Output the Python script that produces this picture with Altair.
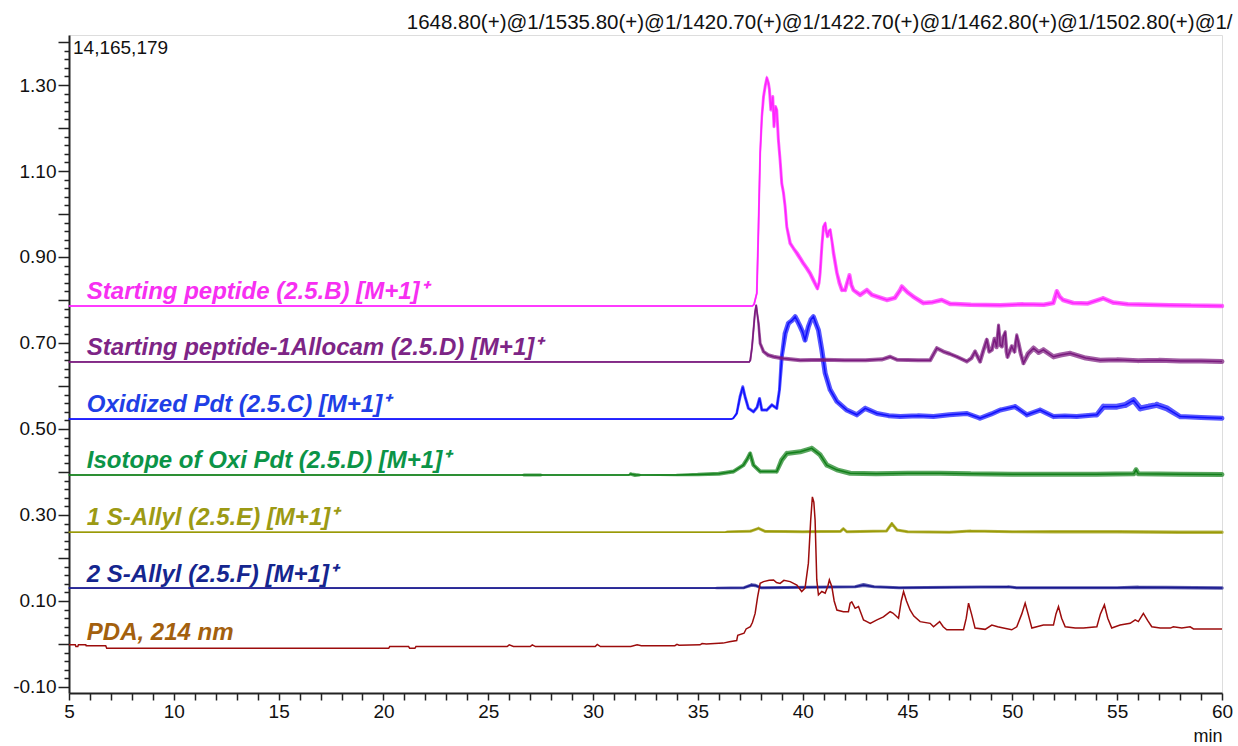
import altair as alt
import pandas as pd

# ---------------- data ----------------
# Starting peptide (2.5.B) - magenta
mag_t = [5.0, 37.6, 37.68, 37.81, 37.89, 37.97, 38.05, 38.13, 38.22, 38.29, 38.36, 38.41, 38.48, 38.57, 38.63,
         38.70, 38.76, 38.84, 38.92, 39.00, 39.08, 39.16, 39.24, 39.40, 39.56, 39.72, 39.88, 40.03, 40.19, 40.35,
         40.52, 40.70, 40.78, 40.83, 40.92, 40.99, 41.07, 41.12, 41.18, 41.25, 41.31, 41.40, 41.47, 41.63, 41.75,
         41.87, 42.02, 42.12, 42.23, 42.32, 42.42, 42.74, 43.06, 43.30, 43.54, 44.01, 44.40, 44.65, 44.73, 45.00,
         45.27, 45.75, 46.20, 46.63, 47.03, 48.00, 49.42, 50.50, 51.50, 51.95, 52.12, 52.25, 52.42, 52.90, 53.60,
         54.33, 54.81, 55.50, 56.50, 57.50, 58.50, 60.0]
mag_v = [0.786, 0.786, 0.790, 0.816, 0.970, 1.141, 1.226, 1.273, 1.300, 1.316, 1.305, 1.290, 1.242, 1.273, 1.203,
         1.250, 1.242, 1.172, 1.126, 1.071, 1.050, 1.017, 0.970, 0.932, 0.920, 0.909, 0.897, 0.885, 0.874, 0.862,
         0.845, 0.827, 0.840, 0.863, 0.930, 0.970, 0.978, 0.960, 0.947, 0.960, 0.963, 0.935, 0.909, 0.863, 0.840,
         0.823, 0.823, 0.840, 0.858, 0.835, 0.823, 0.812, 0.823, 0.812, 0.808, 0.800, 0.805, 0.823, 0.831, 0.818,
         0.808, 0.793, 0.795, 0.800, 0.791, 0.789, 0.788, 0.790, 0.789, 0.793, 0.820, 0.808, 0.800, 0.793, 0.792,
         0.804, 0.794, 0.790, 0.789, 0.788, 0.787, 0.786]
mag_w = [1.6, 1.6, 1.8, 2, 2, 2, 2.5, 3, 3, 3, 3, 3, 3, 3, 3,
         3, 3, 3, 3, 3, 3, 3, 3, 3.5, 3.5, 4, 4, 4, 4, 4,
         4, 3.5, 3, 3, 3, 3, 3, 3, 3, 3, 3, 3, 3.5, 3.5, 4,
         4, 4, 4, 4, 4, 4, 4.5, 4.5, 4.5, 4.5, 4.5, 4.5, 4.5, 4.5, 4.5,
         4.5, 4.5, 4.5, 4.5, 4.5, 4.5, 4.5, 4.5, 4.5, 4.5, 4.5, 4.5, 4.5, 4.5, 4.5,
         4.5, 4.5, 4.5, 4.5, 4.5, 4.5, 4.5]

# Starting peptide-1Allocam (2.5.D) - purple
pur_t = [5.0, 37.45, 37.50, 37.58, 37.65, 37.72, 37.78, 37.84, 37.89, 37.97, 38.13, 38.35, 38.61, 39.08, 39.88,
         41.0, 42.0, 43.0, 43.8, 44.17, 44.5, 45.5, 46.08, 46.25, 46.40, 46.71, 47.0, 47.35, 47.83, 48.05,
         48.22, 48.46, 48.60, 48.78, 48.90, 49.02, 49.15, 49.25, 49.34, 49.42, 49.50, 49.58, 49.66, 49.72, 49.77,
         49.97, 50.10, 50.21, 50.29, 50.40, 50.53, 50.75, 51.01, 51.25, 51.48, 51.96, 52.30, 52.76, 53.50, 54.19,
         55.0, 56.0, 57.0, 58.0, 59.0, 60.0]
pur_v = [0.656, 0.656, 0.660, 0.690, 0.730, 0.770, 0.788, 0.765, 0.746, 0.699, 0.680, 0.672, 0.668, 0.664, 0.660,
         0.661, 0.660, 0.660, 0.662, 0.668, 0.661, 0.660, 0.660, 0.675, 0.688, 0.680, 0.675, 0.668, 0.657, 0.665,
         0.680, 0.657, 0.680, 0.707, 0.680, 0.684, 0.710, 0.690, 0.742, 0.695, 0.692, 0.715, 0.726, 0.680, 0.668,
         0.692, 0.680, 0.719, 0.700, 0.675, 0.653, 0.675, 0.688, 0.678, 0.684, 0.668, 0.672, 0.676, 0.665, 0.660,
         0.661, 0.659, 0.660, 0.658, 0.658, 0.657]
pur_w = [1.6, 1.6, 2, 2, 2, 2, 2, 2, 2.5, 3, 3.5, 4, 4, 4, 4,
         4, 4, 4, 4, 4, 4, 4, 4, 4, 4, 4, 4, 4, 4, 4,
         4, 4, 4, 4, 4, 4, 4, 4, 3, 4, 4, 4, 3, 4, 4,
         4, 4, 3, 4, 4, 4, 5, 5, 5, 5, 5, 5, 5, 5, 5,
         5, 5, 5, 5, 5, 5]

# Oxidized Pdt (2.5.C) - blue
blu_t = [5.0, 36.6, 36.69, 36.85, 37.01, 37.14, 37.25, 37.41, 37.65, 37.82, 37.94, 38.05, 38.29, 38.53, 38.76,
         38.89, 39.00, 39.16, 39.32, 39.48, 39.64, 39.76, 39.88, 40.00, 40.11, 40.27, 40.40, 40.51, 40.63, 40.75,
         40.91, 41.07, 41.31, 41.63, 42.10, 42.58, 42.98, 43.54, 44.10, 44.65, 45.50, 46.24, 47.00, 47.83, 48.46,
         49.00, 49.42, 50.13, 50.69, 51.32, 51.96, 52.50, 53.07, 54.03, 54.35, 54.98, 55.40, 55.78, 56.10, 56.50,
         56.89, 57.37, 58.00, 59.00, 60.0]
blu_v = [0.523, 0.523, 0.525, 0.536, 0.575, 0.598, 0.575, 0.548, 0.540, 0.550, 0.571, 0.544, 0.544, 0.556, 0.548,
         0.591, 0.668, 0.722, 0.746, 0.752, 0.761, 0.750, 0.738, 0.725, 0.707, 0.738, 0.755, 0.761, 0.745, 0.730,
         0.684, 0.630, 0.591, 0.564, 0.544, 0.533, 0.548, 0.536, 0.531, 0.529, 0.531, 0.529, 0.533, 0.536, 0.525,
         0.535, 0.544, 0.552, 0.533, 0.544, 0.529, 0.530, 0.529, 0.533, 0.552, 0.552, 0.556, 0.567, 0.548, 0.552,
         0.556, 0.548, 0.529, 0.527, 0.525]
blu_w = [1.6, 1.6, 2, 2.5, 3, 3, 3, 3, 3, 3, 3, 3, 3, 3, 3,
         3, 4, 5, 5, 5, 5, 5, 5, 5, 5, 5, 5, 5, 5, 5,
         5, 5, 5, 5, 5, 5, 5, 5, 5, 5, 5, 5, 5, 5, 5,
         5, 5, 5, 5, 5, 5, 5, 5, 5, 6, 6, 6, 6, 6, 6,
         6, 6, 5, 5, 5]

# Isotope of Oxi Pdt (2.5.D) - green
grn_t = [5.0, 26.6, 26.7, 27.5, 27.6, 31.7, 31.8, 32.0, 32.2, 32.3, 34.0, 35.0, 36.0, 36.69, 37.17,
         37.35, 37.49, 37.65, 37.97, 38.76, 39.00, 39.24, 39.88, 40.43, 40.83, 41.15, 41.63, 42.26, 43.5, 45.0,
         46.55, 48.0, 50.0, 52.0, 54.0, 55.8, 55.9, 56.0, 58.0, 60.0]
grn_v = [0.393, 0.393, 0.393, 0.393, 0.393, 0.393, 0.395, 0.393, 0.393, 0.393, 0.393, 0.394, 0.396, 0.401, 0.416,
         0.430, 0.443, 0.416, 0.401, 0.401, 0.428, 0.443, 0.447, 0.455, 0.440, 0.416, 0.405, 0.397, 0.396, 0.397,
         0.397, 0.396, 0.395, 0.395, 0.395, 0.396, 0.405, 0.396, 0.395, 0.394]
grn_w = [1.6, 1.6, 3, 3, 1.6, 1.6, 3.5, 4, 3, 1.6, 2.5, 3.5, 4, 4, 4,
         4, 4, 4, 4, 4, 5, 5, 5, 5, 5, 5, 5, 5, 5, 5,
         5, 5, 5, 5, 5, 5, 5, 5, 5, 5]

# 1 S-Allyl (2.5.E) - olive
olv_t = [5.0, 36.3, 36.4, 37.5, 37.89, 38.2, 40.0, 41.8, 41.94, 42.1, 44.0, 44.25, 44.5, 45.0, 47.0,
         48.0, 50.0, 52.0, 55.0, 58.0, 60.0]
olv_v = [0.260, 0.260, 0.261, 0.262, 0.269, 0.262, 0.261, 0.262, 0.268, 0.261, 0.263, 0.280, 0.265, 0.261, 0.260,
         0.263, 0.261, 0.261, 0.261, 0.260, 0.260]
olv_w = [1.6, 1.6, 2.5, 3, 3, 3, 3, 3, 3, 3, 3, 3, 3, 3, 3,
         3, 3, 3.5, 3.5, 3.5, 3.5]

# 2 S-Allyl (2.5.F) - navy
nav_t = [5.0, 35.8, 35.9, 37.2, 37.55, 37.75, 38.0, 42.5, 42.9, 43.4, 44.6, 49.8, 50.2, 55.0, 56.0, 60.0]
nav_v = [0.130, 0.130, 0.130, 0.131, 0.137, 0.136, 0.131, 0.133, 0.137, 0.133, 0.131, 0.133, 0.131, 0.131, 0.132, 0.130]
nav_w = [1.6, 1.6, 2.5, 3, 3.5, 3.5, 3, 3, 4, 3, 3, 3, 3, 3, 3.5, 3.5]

# PDA, 214 nm - dark red
pda_t = [5.0, 5.30, 5.33, 5.42, 5.45, 5.80, 5.82, 6.75, 6.80, 20.25, 20.30, 21.20, 21.25, 21.50, 21.55,
         25.90, 26.00, 26.20, 27.00, 27.10, 27.25, 30.10, 30.20, 30.35, 31.80, 32.10, 32.30, 33.90, 34.00, 34.10,
         35.10, 35.20, 35.40, 36.20, 36.50, 36.85, 36.90, 37.20, 37.30, 37.50, 37.60, 37.73, 37.85, 37.97, 38.13,
         38.40, 38.61, 38.75, 38.92, 39.10, 39.40, 39.72, 39.95, 40.11, 40.27, 40.38, 40.46, 40.53, 40.59, 40.67,
         40.75, 40.91, 41.07, 41.20, 41.27, 41.39, 41.50, 41.63, 41.94, 42.18, 42.26, 42.34, 42.50, 42.66, 42.90,
         43.06, 43.22, 43.54, 43.85, 44.17, 44.30, 44.57, 44.70, 44.81, 44.95, 45.12, 45.30, 45.60, 46.08, 46.24,
         46.53, 46.70, 46.87, 47.67, 47.80, 47.91, 48.05, 48.22, 48.70, 49.02, 49.30, 49.57, 49.97, 50.21, 50.45,
         50.61, 50.75, 50.93, 51.48, 51.96, 52.08, 52.20, 52.35, 52.52, 53.00, 53.39, 54.03, 54.20, 54.39, 54.55,
         54.74, 55.14, 55.62, 55.86, 56.01, 56.25, 56.45, 56.65, 57.05, 57.53, 57.68, 58.08, 58.48, 58.64, 60.0]
pda_v = [-0.002, -0.002, -0.006, -0.006, -0.002, -0.002, -0.004, -0.004, -0.010, -0.010, -0.006, -0.006, -0.010, -0.010, -0.006,
         -0.006, -0.002, -0.006, -0.006, -0.002, -0.006, -0.006, -0.001, -0.006, -0.006, -0.002, -0.004, -0.004, -0.001, -0.003,
         -0.002, 0.001, 0.000, 0.002, 0.005, 0.008, 0.020, 0.025, 0.035, 0.040, 0.050, 0.071, 0.110, 0.141, 0.145,
         0.148, 0.149, 0.143, 0.141, 0.148, 0.145, 0.137, 0.122, 0.130, 0.188, 0.288, 0.342, 0.330, 0.288, 0.149,
         0.114, 0.122, 0.118, 0.135, 0.149, 0.133, 0.100, 0.079, 0.075, 0.075, 0.095, 0.098, 0.083, 0.087, 0.056,
         0.052, 0.048, 0.056, 0.063, 0.075, 0.072, 0.060, 0.100, 0.122, 0.100, 0.079, 0.065, 0.052, 0.048, 0.040,
         0.052, 0.040, 0.033, 0.033, 0.060, 0.095, 0.070, 0.037, 0.034, 0.044, 0.040, 0.037, 0.033, 0.040, 0.070,
         0.095, 0.070, 0.037, 0.044, 0.044, 0.070, 0.087, 0.060, 0.040, 0.037, 0.037, 0.040, 0.070, 0.091, 0.060,
         0.037, 0.044, 0.048, 0.056, 0.052, 0.071, 0.055, 0.040, 0.037, 0.037, 0.040, 0.037, 0.040, 0.035, 0.035]
pda_w = [1.8] * len(pda_t)

# series labels
label_text = ["Starting peptide (2.5.B) [M+1]\u207a",
              "Starting peptide-1Allocam (2.5.D) [M+1]\u207a",
              "Oxidized Pdt (2.5.C) [M+1]\u207a",
              "Isotope of Oxi Pdt (2.5.D) [M+1]\u207a",
              "1 S-Allyl (2.5.E) [M+1]\u207a",
              "2 S-Allyl (2.5.F) [M+1]\u207a",
              "PDA, 214 nm"]
label_x = [5.85, 5.85, 5.85, 5.85, 5.85, 5.85, 5.85]
label_y = [0.803, 0.672, 0.539, 0.409, 0.276, 0.143, 0.010]
label_colors = ["#f72ff2", "#7d2586", "#1f3fe6", "#0b9447", "#9c9a14", "#15268f", "#a3600e"]

line_colors = {"grn": "#12801a", "blu": "#1010ff", "pur": "#7a1a7e", "mag": "#ff22ff",
               "olv": "#9a9a06", "nav": "#18188e", "pda": "#9c0c0c"}

title_text = "1648.80(+)@1/1535.80(+)@1/1420.70(+)@1/1422.70(+)@1/1462.80(+)@1/1502.80(+)@1/"
corner_text = ["14,165,179"]
corner_x = [5.0]
corner_y = [1.385]

x_ticks = list(range(5, 61))
y_ticks = [round(-0.10 + 0.02 * i, 2) for i in range(76)]

# ---------------- chart ----------------
FONT = "Liberation Sans"
x_scale = alt.Scale(domain=[5, 60], nice=False, zero=False)
y_scale = alt.Scale(domain=[-0.114, 1.4163], nice=False, zero=False)

x_axis = alt.Axis(values=x_ticks,
                  labelExpr="datum.value % 5 == 0 ? datum.value : ''",
                  tickSize=7, tickWidth=1.5, tickColor="#222", domainColor="#222", domainWidth=2,
                  labelFont=FONT, labelFontSize=19, labelColor="#111", labelPadding=2,
                  labelFlush=False, labelOverlap=False, grid=False,
                  title="min", titleFont=FONT, titleFontSize=18, titleFontWeight="normal",
                  titleColor="#111", titleAnchor="end", titlePadding=6)
y_axis = alt.Axis(values=y_ticks,
                  labelExpr="abs(round(datum.value*100)) % 20 == 10 ? replace(format(datum.value, '.2f'), '\u2212', '-') : ''",
                  tickSize={"condition": {"test": "abs(round(datum.value*100)) % 10 == 0", "value": 11}, "value": 5},
                  tickWidth=1.5, tickColor="#222", domainColor="#222", domainWidth=2,
                  labelFont=FONT, labelFontSize=19, labelColor="#111", labelPadding=2,
                  labelFlush=False, labelOverlap=False, grid=False, title=None)

X = alt.X("t:Q", scale=x_scale, axis=x_axis)
Y = alt.Y("v:Q", scale=y_scale, axis=y_axis)

series = [
    ("grn", grn_t, grn_v, grn_w),
    ("blu", blu_t, blu_v, blu_w),
    ("pur", pur_t, pur_v, pur_w),
    ("mag", mag_t, mag_v, mag_w),
    ("olv", olv_t, olv_v, olv_w),
    ("nav", nav_t, nav_v, nav_w),
    ("pda", pda_t, pda_v, pda_w),
]

layers = []
for key, t, v, w in series:
    df = pd.DataFrame({"t": t, "v": v, "w": w, "i": range(len(t))})
    base = alt.Chart(df)
    if key != "pda":
        # noise envelope (lighter, wider) drawn under the trace
        layers.append(
            base.mark_trail(opacity=0.7).encode(
                x=X, y=Y,
                size=alt.Size("w:Q", scale=None, legend=None),
                order="i:Q",
                color=alt.value(line_colors[key]),
            )
        )
    layers.append(
        base.mark_line(strokeWidth=1.5).encode(
            x=X, y=Y, order="i:Q", color=alt.value(line_colors[key]),
        )
    )

lab_df = pd.DataFrame({"t": label_x, "v": label_y, "name": label_text})
labels = alt.Chart(lab_df).mark_text(
    align="left", baseline="alphabetic", font=FONT, fontSize=24,
    fontStyle="italic", fontWeight="bold"
).encode(
    x=X, y=Y, text="name:N",
    color=alt.Color("name:N", scale=alt.Scale(domain=label_text, range=label_colors), legend=None),
)

corner_df = pd.DataFrame({"t": corner_x, "v": corner_y, "txt": corner_text})
corner = alt.Chart(corner_df).mark_text(
    align="left", baseline="middle", dx=4, font=FONT, fontSize=19, color="#111"
).encode(x=X, y=Y, text="txt:N")

chart = alt.layer(*layers, labels, corner).properties(
    width=1153, height=658,
    padding={"left": 69, "top": 35, "right": 16, "bottom": 53},
    autosize=alt.AutoSizeParams(type="none"),
    title=alt.TitleParams(title_text, anchor="end", font=FONT, fontSize=20.5, fontWeight="normal",
                          color="#111", baseline="alphabetic", offset=8, dy=24),
).configure_view(stroke="#222", strokeWidth=2).configure(background="white")

chart.save("out.html", embed_options={"renderer": "svg", "actions": False})
